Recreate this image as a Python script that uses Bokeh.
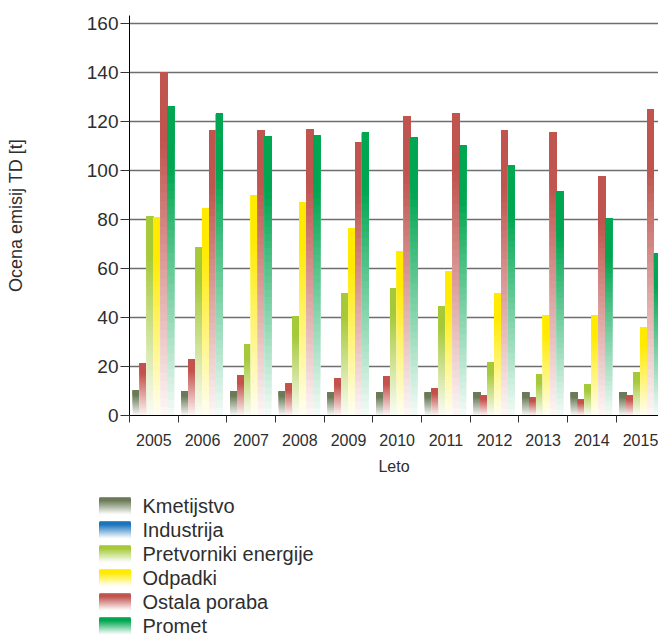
from bokeh.plotting import figure
from bokeh.models import FixedTicker, Range1d, ColumnDataSource
from bokeh.layouts import column
from bokeh.core.properties import value
from bokeh.embed import file_html
from bokeh.resources import INLINE

years = ["2005", "2006", "2007", "2008", "2009", "2010", "2011", "2012", "2013", "2014", "2015"]
series_names = ["Kmetijstvo", "Industrija", "Pretvorniki energije", "Odpadki", "Ostala poraba", "Promet"]
kmetijstvo = [10.2, 9.8, 10.0, 9.8, 9.4, 9.4, 9.4, 9.4, 9.4, 9.4, 9.4]
industrija = [21.2, 22.8, 16.3, 13.0, 15.1, 15.9, 11.0, 8.2, 7.3, 6.5, 8.2]
pretvorniki = [81.0, 68.5, 29.0, 40.4, 49.8, 51.8, 44.5, 21.6, 16.7, 12.6, 17.5]
odpadki = [80.6, 84.4, 89.7, 86.9, 76.3, 66.9, 58.7, 49.8, 40.8, 40.8, 35.9]
ostala = [140.0, 116.2, 116.2, 116.6, 111.3, 121.9, 123.2, 116.2, 115.4, 97.5, 124.8]
promet = [126.2, 123.2, 113.8, 114.2, 115.4, 113.4, 110.1, 102.0, 91.4, 80.3, 66.1]
y_ticks = [0, 20, 40, 60, 80, 100, 120, 140, 160]

series_values = [kmetijstvo, industrija, pretvorniki, odpadki, ostala, promet]
bar_colors = ["#6b7b58", "#c4524c", "#a6c93a", "#ffea00", "#c0544e", "#00a651"]
legend_colors = ["#6b7b58", "#1b75bc", "#a6c93a", "#ffea00", "#c0544e", "#00a651"]

FONT = "Liberation Sans"
TEXT = "#2e2e2e"
N = 40


def hex_rgb(h):
    h = h.lstrip("#")
    return tuple(int(h[i:i + 2], 16) for i in (0, 2, 4))


def mix(col, f):
    r, g, b = hex_rgb(col)
    return "#%02x%02x%02x" % tuple(int(round(255 + (c - 255) * f)) for c in (r, g, b))


def shade(t):
    return 0.04 + 0.96 * min(1.0, t / 0.8)


p = figure(width=658, height=480, output_backend="svg", toolbar_location=None,
           x_range=Range1d(0, 10.87), y_range=Range1d(0, 163.1),
           min_border_left=129, min_border_right=0, min_border_top=15, min_border_bottom=65)
p.outline_line_color = None
p.background_fill_color = "white"
p.border_fill_color = "white"
p.frame_align = False

bar_w = 0.1414
for k, vals in enumerate(series_values):
    xs, bots, tops, cols = [], [], [], []
    offset = 0.1406 + bar_w * k
    for i, v in enumerate(vals):
        for j in range(N):
            xs.append(i + offset)
            bots.append(v * j / N)
            tops.append(v)
            cols.append(mix(bar_colors[k], shade((j + 0.5) / N)))
    src = ColumnDataSource(dict(x=xs, bottom=bots, top=tops, color=cols))
    p.vbar(x="x", bottom="bottom", top="top", width=bar_w, fill_color="color",
           line_color=None, source=src)

# axes
p.xgrid.grid_line_color = None
p.ygrid.ticker = FixedTicker(ticks=y_ticks)
p.ygrid.grid_line_color = "#6e6e6e"
p.ygrid.grid_line_width = 1.6

p.yaxis.ticker = FixedTicker(ticks=y_ticks)
p.yaxis.axis_label = "Ocena emisij TD [t]"
p.yaxis.axis_label_text_font = FONT
p.yaxis.axis_label_text_font_size = "18px"
p.yaxis.axis_label_text_font_style = "normal"
p.yaxis.axis_label_text_color = TEXT
p.yaxis.axis_label_standoff = 58
p.yaxis.major_label_text_font = FONT
p.yaxis.major_label_text_font_size = "19px"
p.yaxis.major_label_text_color = TEXT
p.yaxis.major_label_standoff = 2
p.yaxis.major_tick_out = 9
p.yaxis.major_tick_in = 0
p.yaxis.minor_tick_line_color = None
p.yaxis.axis_line_color = "black"
p.yaxis.major_tick_line_color = "#333333"

centers = [i + 0.5 for i in range(len(years))]
p.xaxis.ticker = FixedTicker(ticks=centers, minor_ticks=list(range(len(years) + 1)))
p.xaxis.major_label_overrides = {c: y for c, y in zip(centers, years)}
p.xaxis.major_tick_out = 0
p.xaxis.major_tick_in = 0
p.xaxis.minor_tick_out = 7
p.xaxis.minor_tick_in = 0
p.xaxis.minor_tick_line_color = "#333333"
p.xaxis.axis_line_color = "black"
p.xaxis.major_label_text_font = FONT
p.xaxis.major_label_text_font_size = "16px"
p.xaxis.major_label_text_color = TEXT
p.xaxis.major_label_standoff = 11
p.xaxis.axis_label = "Leto"
p.xaxis.axis_label_text_font = FONT
p.xaxis.axis_label_text_font_size = "16px"
p.xaxis.axis_label_text_font_style = "normal"
p.xaxis.axis_label_text_color = TEXT
p.xaxis.axis_label_standoff = 9

# legend (custom, gradient swatches)
lg = figure(width=658, height=156, output_backend="svg", toolbar_location=None,
            x_range=Range1d(0, 658), y_range=Range1d(156, 0),
            min_border=0)
lg.outline_line_color = None
lg.axis.visible = False
lg.grid.visible = False
lg.frame_align = False

sw_l, sw_r, sw_h = 99, 130, 16.5
row_y = [25 + 24 * k for k in range(len(series_names))]
qx0, qx1, qb, qt, qc = [], [], [], [], []
for k, name in enumerate(series_names):
    yc = row_y[k]
    top = yc - sw_h / 2
    for j in range(N):
        qx0.append(sw_l)
        qx1.append(sw_r)
        qt.append(top + sw_h * j / N)
        qb.append(yc + sw_h / 2)
        qc.append(mix(legend_colors[k], shade(1 - (j + 0.5) / N)))
lg.quad(left=qx0, right=qx1, top=qt, bottom=qb, fill_color=qc, line_color=None)
lg.text(x=[142] * len(series_names), y=row_y, text=series_names,
        text_font=value(FONT), text_font_size="20px", text_color=TEXT,
        text_baseline="middle", text_align="left")

layout = column(p, lg, spacing=0)
open("out.html", "w").write(file_html(layout, INLINE))
